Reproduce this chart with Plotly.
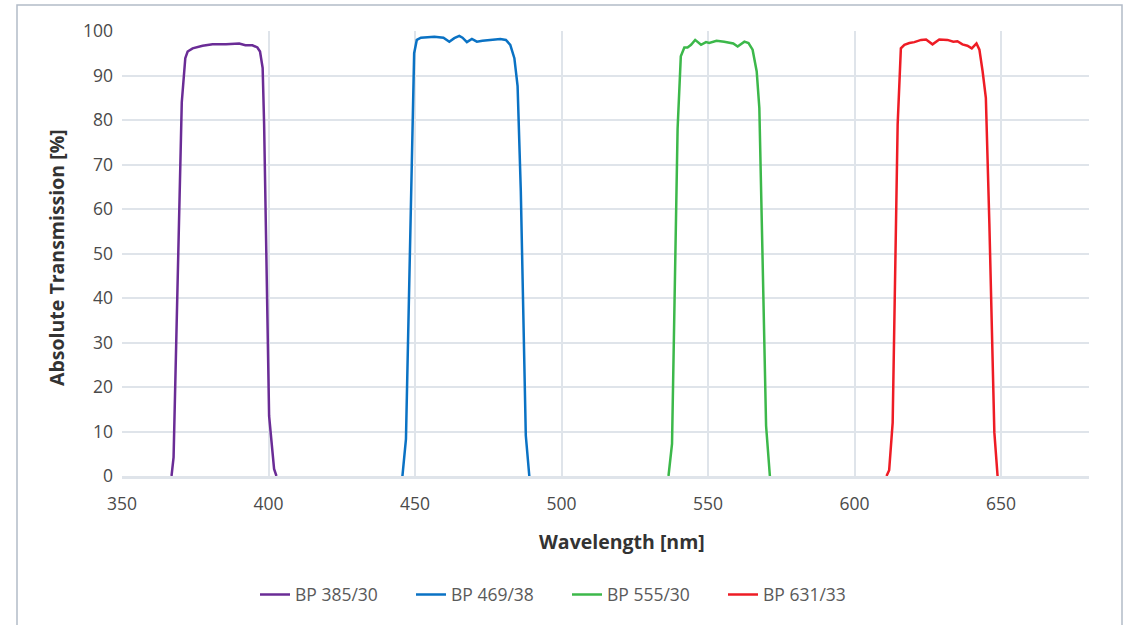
import plotly.graph_objects as go

# ---- data ----
bp385_x = [366.9, 367.6, 370.4, 371.6, 372.4, 374.1, 377.5, 380.9, 385.5, 390.0, 392.1, 394.5, 396.2, 397.1, 398.0, 398.5, 400.2, 401.9, 402.7]
bp385_y = [0.0, 4.2, 84.0, 93.9, 95.4, 96.1, 96.7, 97.0, 97.0, 97.2, 96.8, 96.8, 96.3, 95.4, 91.7, 79.0, 13.5, 1.6, 0.0]

bp469_x = [445.7, 446.9, 449.7, 450.6, 452.0, 456.6, 459.7, 461.7, 463.4, 465.1, 466.2, 467.7, 469.4, 471.1, 473.0, 475.9, 479.1, 481.0, 482.5, 483.9, 485.0, 486.1, 487.8, 489.0]
bp469_y = [0.0, 8.3, 95.0, 98.0, 98.5, 98.7, 98.5, 97.6, 98.4, 98.9, 98.5, 97.5, 98.2, 97.6, 97.8, 98.0, 98.2, 98.0, 96.9, 93.9, 87.6, 64.0, 9.1, 0.0]

bp555_x = [536.5, 537.7, 539.6, 540.7, 541.9, 543.0, 544.2, 545.6, 547.6, 549.3, 550.4, 552.9, 555.5, 557.5, 558.6, 560.1, 562.4, 563.8, 565.2, 566.6, 567.5, 568.6, 569.8, 571.1]
bp555_y = [0.0, 7.2, 78.0, 94.3, 96.3, 96.3, 96.9, 98.0, 96.9, 97.5, 97.3, 97.8, 97.6, 97.3, 97.2, 96.5, 97.6, 97.3, 95.8, 90.9, 82.7, 49.0, 11.3, 0.0]

bp631_x = [610.9, 611.8, 613.0, 614.7, 615.8, 617.0, 618.7, 620.4, 622.7, 624.4, 626.6, 628.9, 631.7, 633.7, 635.1, 636.8, 638.5, 640.0, 641.6, 642.6, 643.7, 644.8, 646.0, 647.7, 648.8]
bp631_y = [0.0, 1.3, 12.0, 79.0, 96.1, 96.9, 97.3, 97.5, 98.0, 98.1, 97.0, 98.1, 98.0, 97.6, 97.7, 97.0, 96.7, 96.1, 97.2, 95.8, 90.9, 85.0, 56.7, 9.8, 0.0]

series_names = ["BP 385/30", "BP 469/38", "BP 555/30", "BP 631/33"]
series_colors = ["#6a2c96", "#0a72c4", "#3cb84a", "#ee1c25"]

x_tick_vals = [350, 400, 450, 500, 550, 600, 650]
y_tick_vals = [0, 10, 20, 30, 40, 50, 60, 70, 80, 90, 100]

FONT = "Open Sans"
GRID = "#dfe4ea"

fig = go.Figure()
for xs, ys, name, col in zip([bp385_x, bp469_x, bp555_x, bp631_x],
                             [bp385_y, bp469_y, bp555_y, bp631_y],
                             series_names, series_colors):
    fig.add_trace(go.Scatter(x=xs, y=ys, mode="lines", name=name,
                             line=dict(color=col, width=2.5)))

fig.update_layout(
    width=1124, height=625,
    margin=dict(l=122, r=35, t=31, b=147),
    paper_bgcolor="white", plot_bgcolor="white",
    font=dict(family=FONT, color="#4a4a4a"),
    showlegend=True,
    legend=dict(orientation="h", x=(255 - 122) / 967, xanchor="left", y=-0.226, yanchor="top",
                font=dict(family=FONT, size=17.5, color="#5a5a5a"),
                entrywidth=111, entrywidthmode="pixels",
                itemwidth=30, traceorder="normal"),
    xaxis=dict(range=[350, 680], tickvals=x_tick_vals, showgrid=True, gridcolor=GRID, gridwidth=2,
               showline=True, linecolor=GRID, linewidth=3, zeroline=False,
               ticks="", tickfont=dict(size=17.5, color="#4a4a4a"), ticklabelstandoff=10),
    yaxis=dict(range=[0, 100], tickvals=y_tick_vals, showgrid=True, gridcolor=GRID, gridwidth=2,
               showline=False, zeroline=False,
               ticks="", tickfont=dict(size=17.5, color="#4a4a4a"), ticklabelstandoff=8),
    annotations=[
        dict(text="<b>Wavelength [nm]</b>", xref="paper", yref="paper",
             x=(622 - 122) / 967, y=(478 - 544) / 447, xanchor="center", yanchor="middle",
             showarrow=False, font=dict(family=FONT, size=19.5, color="#333333")),
        dict(text="<b>Absolute Transmission [%]</b>", xref="paper", yref="paper",
             x=(57 - 122) / 967, y=(478 - 259) / 447, xanchor="center", yanchor="middle",
             textangle=-90, showarrow=False, font=dict(family=FONT, size=19.5, color="#333333")),
    ],
    shapes=[dict(type="rect", xref="paper", yref="paper",
                 x0=(17 - 122) / 967, x1=(1122 - 122) / 967,
                 y0=(478 - 660) / 447, y1=(478 - 5) / 447,
                 line=dict(color="#b3bcc8", width=1.5), fillcolor="rgba(0,0,0,0)", layer="below")],
)

fig.write_html("out.html")
